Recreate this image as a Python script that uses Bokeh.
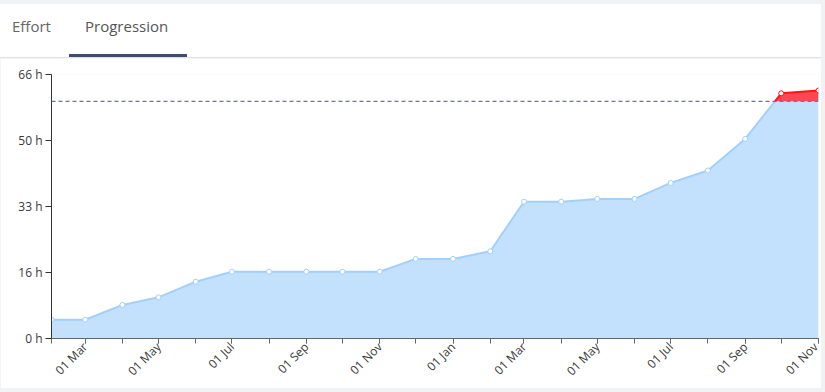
import math
import numpy as np
import pandas as pd
from bokeh.plotting import figure
from bokeh.models import FixedTicker, DatetimeTickFormatter, Span, Div
from bokeh.layouts import column
from bokeh.embed import file_html
from bokeh.resources import INLINE

# ---- data ----
months = ["2022-02-01", "2022-03-01", "2022-04-01", "2022-05-01", "2022-06-01",
          "2022-07-01", "2022-08-01", "2022-09-01", "2022-10-01", "2022-11-01",
          "2022-12-01", "2023-01-01", "2023-02-01", "2023-03-01", "2023-04-01",
          "2023-05-01", "2023-06-01", "2023-07-01", "2023-08-01", "2023-09-01",
          "2023-10-01", "2023-11-01"]
hours = [4.7, 4.7, 8.4, 10.3, 14.2, 16.7, 16.7, 16.7, 16.7, 16.7,
         19.9, 19.9, 21.8, 34.2, 34.2, 34.9, 34.9, 38.9, 42.0, 49.9,
         61.3, 62.0]
threshold = 59.3
y_ticks = [0, 16.5, 33, 49.5, 66]
y_labels = ["0 h", "16 h", "33 h", "50 h", "66 h"]
labeled_months = [0, 2, 4, 6, 8, 10]  # Jan, Mar, May, Jul, Sep, Nov (0-based)
tabs = ["Effort", "Progression"]

FONT = "Open Sans"

x = pd.to_datetime(months)
xv = x.values.astype("datetime64[ms]").astype(np.int64).astype(float)
yv = np.array(hours, dtype=float)

# split series at the threshold (derived from the data)
bx, by = [], []
rx, ry = [], []
for i in range(len(xv)):
    if i > 0 and (yv[i - 1] - threshold) * (yv[i] - threshold) < 0:
        t = (threshold - yv[i - 1]) / (yv[i] - yv[i - 1])
        cx = xv[i - 1] + t * (xv[i] - xv[i - 1])
        bx.append(cx); by.append(threshold)
        rx.append(cx); ry.append(threshold)
    bx.append(xv[i]); by.append(min(yv[i], threshold))
    if yv[i] >= threshold:
        rx.append(xv[i]); ry.append(yv[i])

below_mask = yv <= threshold
cut = rx[0] if rx else bx[-1]
line_bx = [b for b in bx if b <= cut]
line_by = by[:len(line_bx)]

p = figure(width=821, height=330, x_axis_type="datetime",
           x_range=(xv[0], xv[-1]), y_range=(0, 66),
           output_backend="svg", toolbar_location=None,
           min_border_left=51, min_border_right=3,
           min_border_top=16, min_border_bottom=50)
p.outline_line_color = None
p.grid.visible = False
p.background_fill_color = "white"
p.border_fill_color = "white"

blue_fill = "#c3e0fd"
blue_line = "#a3d0f9"
red_fill = "#ff4652"
red_line = "#ff1414"
p.varea(x=bx, y1=[0] * len(bx), y2=by, fill_color=blue_fill)
p.varea(x=rx, y1=[threshold] * len(rx), y2=ry, fill_color=red_fill)
p.line(x=line_bx, y=line_by, line_color=blue_line, line_width=2)
p.line(x=rx, y=ry, line_color=red_line, line_width=2)

p.add_layout(Span(location=threshold, dimension="width", line_color="#6e7697",
                  line_dash="4 3", line_width=1.3))

p.scatter(x=xv[below_mask], y=yv[below_mask], size=5, marker="circle",
          fill_color="white", line_color=blue_line, line_width=1)
p.scatter(x=xv[~below_mask], y=yv[~below_mask], size=5, marker="circle",
          fill_color="white", line_color=red_line, line_width=1)

# axes
major_x = [v for v, d in zip(xv, x) if (d.month - 1) in labeled_months]
p.xaxis.ticker = FixedTicker(ticks=major_x, minor_ticks=list(xv))
fmt = "%d %b"
p.xaxis.formatter = DatetimeTickFormatter(
    milliseconds=fmt, seconds=fmt, minsec=fmt, minutes=fmt, hourmin=fmt,
    hours=fmt, days=fmt, months=fmt, years=fmt)
p.xaxis.major_label_orientation = math.pi / 4
p.xaxis.major_tick_out = 5
p.xaxis.major_tick_in = 0
p.xaxis.minor_tick_out = 5
p.xaxis.minor_tick_in = 0
p.xaxis.axis_line_color = "#666666"
p.xaxis.major_tick_line_color = "#666666"
p.xaxis.minor_tick_line_color = "#666666"

p.yaxis.ticker = FixedTicker(ticks=y_ticks)
p.yaxis.major_label_overrides = {t: l for t, l in zip(y_ticks, y_labels)}
p.yaxis.major_tick_out = 6
p.yaxis.major_tick_in = 0
p.yaxis.minor_tick_line_color = None
p.yaxis.axis_line_color = "#333333"
p.yaxis.major_tick_line_color = "#333333"

for ax in (p.xaxis, p.yaxis):
    ax.major_label_text_font = FONT
    ax.major_label_text_font_size = "12px"
    ax.major_label_text_color = "#3a3a3a"
p.yaxis.major_label_standoff = 3
p.xaxis.major_label_standoff = 1

tab_html = (
    '<div style="position:relative;box-sizing:border-box;width:821px;height:58px;'
    'border-top:4px solid #f1f2f4;border-bottom:1px solid #e2e2e2;'
    'font-family:\'Open Sans\';font-size:15px;background:white;">'
    f'<span style="position:absolute;left:12px;top:12px;color:#666666;">{tabs[0]}</span>'
    f'<span style="position:absolute;left:85px;top:12px;color:#555555;">{tabs[1]}</span>'
    '<div style="position:absolute;left:69px;top:50px;width:118px;height:3px;background:#414b70;"></div>'
    '</div>'
)
div = Div(text=tab_html, width=821, height=58, margin=0)
p.margin = 0

layout = column(div, p, spacing=0, width=825, height=392, margin=0,
                styles={"background-color": "#f1f2f4"})

open("out.html", "w").write(file_html(layout, INLINE))
